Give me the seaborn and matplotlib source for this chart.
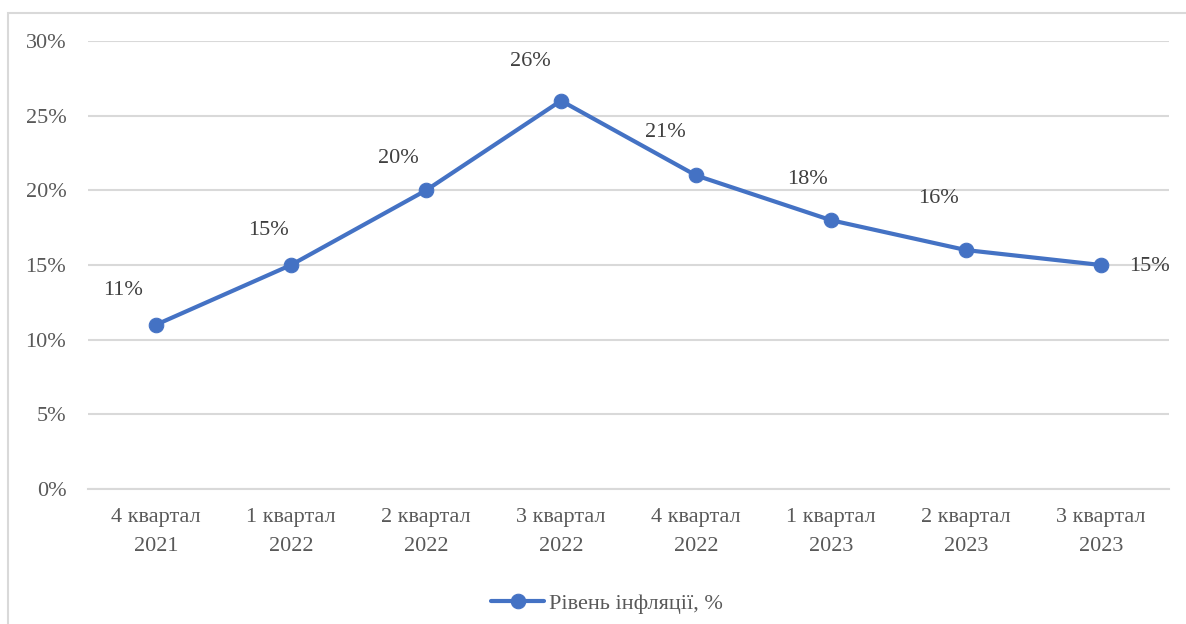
import pandas as pd
import matplotlib.pyplot as plt
import seaborn as sns
from matplotlib.patches import Rectangle

quarters = ['4 квартал\n2021', '1 квартал\n2022', '2 квартал\n2022', '3 квартал\n2022',
            '4 квартал\n2022', '1 квартал\n2023', '2 квартал\n2023', '3 квартал\n2023']
inflation = [11, 15, 20, 26, 21, 18, 16, 15]
series_name = 'Рівень інфляції, %'

df = pd.DataFrame({'quarter': quarters, 'value': inflation, 'series': series_name})

sns.set_style('white')
plt.rcParams['font.family'] = ['Liberation Serif', 'DejaVu Serif']

grey = '#595959'
blue = '#4472C4'

fig = plt.figure(figsize=(11.86, 6.24), dpi=100)
ax = fig.add_axes([0.0746, 0.2163, 0.9107, 0.718])

# light frame around the chart area (cut at the right and bottom)
fig.patches.append(Rectangle((8 / 1186, -0.01), 1.0, 1 - 13 / 624 + 0.01,
                             transform=fig.transFigure, fill=False,
                             edgecolor='#D9D9D9', linewidth=1.5))

sns.lineplot(data=df, x='quarter', y='value', hue='series', palette=[blue],
             marker='o', markersize=10.5, markeredgecolor=blue, linewidth=3,
             sort=False, ax=ax)

ax.set_xlim(-0.5, len(quarters) - 0.5)
ax.set_ylim(0, 30)
ax.set_xticks(range(len(quarters)))
ax.set_xticklabels(quarters, linespacing=1.7)
ax.set_yticks(range(0, 31, 5))
ax.set_yticklabels([f'{v}%' for v in range(0, 31, 5)])
ax.yaxis.grid(True, color='#D9D9D9', linewidth=1.5)
ax.set_axisbelow(True)
for s in ['left', 'right', 'top']:
    ax.spines[s].set_visible(False)
ax.spines['bottom'].set_color('#D9D9D9')
ax.spines['bottom'].set_linewidth(1.5)
ax.tick_params(axis='both', length=0, colors=grey, labelsize=16)
ax.tick_params(axis='x', pad=14)
ax.tick_params(axis='y', pad=16)
ax.set_xlabel('')
ax.set_ylabel('')

# data labels, offsets in points
label_offsets = [(-24, 25), (-16, 25), (-20, 23), (-22, 28), (-22, 31), (-17, 29), (-20, 37), (35, -1)]
for i, (v, off) in enumerate(zip(inflation, label_offsets)):
    ax.annotate(f'{v}%', (i, v), xytext=off, textcoords='offset points',
                ha='center', va='center', fontsize=16, color='#404040')

leg = ax.legend(loc='center', bbox_to_anchor=(0.48, -0.255), frameon=False,
                fontsize=16, handlelength=2.4, handletextpad=0.2)
for t in leg.get_texts():
    t.set_color(grey)

fig.savefig('out.png', dpi=100)
